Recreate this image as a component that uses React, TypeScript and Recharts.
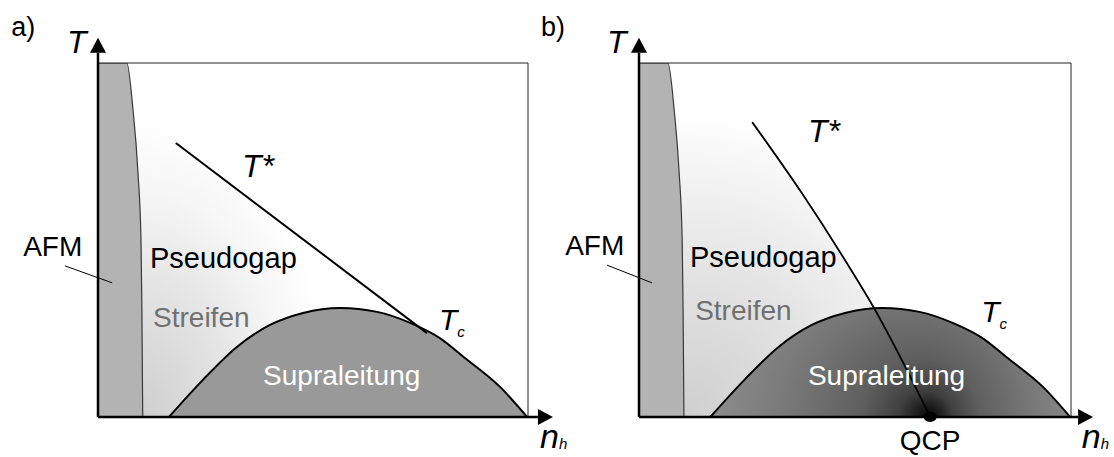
import React from "react";
import {
  ComposedChart,
  Area,
  Line,
  XAxis,
  YAxis,
  ReferenceArea,
  ReferenceLine,
  ReferenceDot,
} from "recharts";

// doping n_h runs 0..1 across the frame, temperature T 0..1 up the frame
const domeN = [0.165, 0.244, 0.323, 0.4, 0.477, 0.563, 0.649, 0.726, 0.795, 0.851, 0.935, 0.998];
const domeT = [0, 0.105, 0.198, 0.26, 0.294, 0.308, 0.297, 0.266, 0.223, 0.169, 0.085, 0];

const afmN = [0, 0.067, 0.081, 0.093, 0.1, 0.102, 0.104];
const afmT = [1, 1, 0.873, 0.689, 0.5, 0.311, 0];

// a) T* as a straight crossover that runs onto the dome
const tStarAN = [0.181, 0.765];
const tStarAT = [0.774, 0.237];

// b) T* bending down into the quantum critical point
const tStarBN = [0.262, 0.375, 0.481, 0.544, 0.62, 0.674];
const tStarBT = [0.833, 0.636, 0.435, 0.308, 0.133, 0];

const qcpN = 0.674;

const FONT = "'Liberation Sans', Arial, sans-serif";

type Pt = { n: number; T: number };
const zip = (n: number[], t: number[]): Pt[] => n.map((x, i) => ({ n: x, T: t[i] }));

const dome = zip(domeN, domeT);
const afm = zip(afmN, afmT);
const tStarA = zip(tStarAN, tStarAT);
const tStarB = zip(tStarBN, tStarBT);

// shaded pseudogap region: everything left of / below T*
const pseudoA: Pt[] = [
  { n: 0, T: 1 },
  { n: tStarAN[0], T: 1 },
  ...tStarA,
  { n: domeN[domeN.length - 1], T: 0 },
];
const pseudoB: Pt[] = [{ n: 0, T: 1 }, { n: tStarBN[0], T: 1 }, ...tStarB];

const arrowShape = (p: any) => {
  const { x1, y1, x2, y2 } = p;
  const ang = Math.atan2(y2 - y1, x2 - x1);
  const len = 15;
  const half = 8;
  const bx = x2 - len * Math.cos(ang);
  const by = y2 - len * Math.sin(ang);
  const ox = -Math.sin(ang) * half;
  const oy = Math.cos(ang) * half;
  return (
    <g>
      <line x1={x1} y1={y1} x2={bx} y2={by} stroke="#000" strokeWidth={2.5} />
      <polygon points={`${x2},${y2} ${bx + ox},${by + oy} ${bx - ox},${by - oy}`} fill="#000" />
    </g>
  );
};

type NoteOpts = {
  size?: number;
  color?: string;
  italic?: boolean;
  anchor?: "start" | "middle" | "end";
  sub?: string;
  subSize?: number;
  subDy?: number;
};

const note = (key: string, n: number, T: number, text: string, o: NoteOpts = {}) => (
  <ReferenceDot
    key={key}
    x={n}
    y={T}
    r={0}
    ifOverflow="visible"
    shape={(p: any) => (
      <text
        x={p.cx}
        y={p.cy}
        fontFamily={FONT}
        fontSize={o.size ?? 28}
        fontStyle={o.italic ? "italic" : "normal"}
        fill={o.color ?? "#000"}
        textAnchor={o.anchor ?? "start"}
      >
        {text}
        {o.sub && (
          <tspan fontSize={o.subSize ?? 15} dy={o.subDy ?? 8}>
            {o.sub}
          </tspan>
        )}
      </text>
    )}
  />
);

const axes = (xEnd: number) => [
  <ReferenceArea key="box" x1={0} x2={1} y1={0} y2={1} fill="none" stroke="#222" strokeWidth={1} ifOverflow="visible" />,
  <ReferenceLine key="xax" segment={[{ x: 0, y: 0 }, { x: xEnd, y: 0 }]} ifOverflow="visible" shape={arrowShape} />,
  <ReferenceLine key="yax" segment={[{ x: 0, y: 0 }, { x: 0, y: 1.071 }]} ifOverflow="visible" shape={arrowShape} />,
];

function PanelA() {
  return (
    <ComposedChart
      width={600}
      height={457}
      margin={{ top: 63, right: 72, bottom: 40, left: 98 }}
      style={{ position: "absolute", left: 0, top: 0 }}
    >
      <defs>
        <radialGradient
          id="pgA"
          gradientUnits="userSpaceOnUse"
          cx={0}
          cy={0}
          r={1}
          gradientTransform="translate(143 417) scale(190 300)"
        >
          <stop offset="0" stopColor="#cfcfcf" />
          <stop offset="0.4" stopColor="#e2e2e2" />
          <stop offset="0.75" stopColor="#f6f6f6" />
          <stop offset="1" stopColor="#ffffff" />
        </radialGradient>
      </defs>
      <XAxis type="number" dataKey="n" domain={[0, 1]} allowDataOverflow hide />
      <YAxis type="number" dataKey="T" domain={[0, 1]} allowDataOverflow hide />
      <Area data={pseudoA} dataKey="T" type="linear" fill="url(#pgA)" fillOpacity={1} stroke="none" isAnimationActive={false} />
      <Area data={afm} dataKey="T" type="monotoneX" fill="#b3b3b3" fillOpacity={1} stroke="#3a3a3a" strokeWidth={1.2} isAnimationActive={false} />
      <Area data={dome} dataKey="T" type="monotone" fill="#999999" fillOpacity={1} stroke="#000" strokeWidth={2} isAnimationActive={false} />
      <Line data={tStarA} dataKey="T" type="linear" stroke="#000" strokeWidth={2} dot={false} activeDot={false} isAnimationActive={false} />
      <ReferenceLine segment={[{ x: -0.077, y: 0.427 }, { x: 0.033, y: 0.379 }]} stroke="#000" strokeWidth={1} ifOverflow="visible" />
      {axes(1.058)}
      {note("lbl", -0.202, 1.076, "a)", { size: 27 })}
      {note("tAx", -0.072, 1.028, "T", { size: 32, italic: true })}
      {note("afm", -0.174, 0.455, "AFM")}
      {note("pg", 0.121, 0.421, "Pseudogap", { size: 29 })}
      {note("st", 0.128, 0.254, "Streifen", { color: "#707070" })}
      {note("sc", 0.384, 0.09, "Supraleitung", { color: "#fff" })}
      {note("ts", 0.335, 0.678, "T*", { size: 32, italic: true })}
      {note("tc", 0.793, 0.246, "T", { size: 30, italic: true, sub: "c", subSize: 15, subDy: 7 })}
      {note("nh", 1.028, -0.088, "n", { size: 34, italic: true, sub: "h", subSize: 15, subDy: 1 })}
    </ComposedChart>
  );
}

function PanelB() {
  return (
    <ComposedChart
      width={594}
      height={457}
      margin={{ top: 63, right: 43, bottom: 40, left: 119 }}
      style={{ position: "absolute", left: 520, top: 0 }}
    >
      <defs>
        <radialGradient
          id="pgB"
          gradientUnits="userSpaceOnUse"
          cx={0}
          cy={0}
          r={1}
          gradientTransform="translate(164 417) scale(300 305)"
        >
          <stop offset="0" stopColor="#cfcfcf" />
          <stop offset="0.4" stopColor="#e0e0e0" />
          <stop offset="0.75" stopColor="#f1f1f1" />
          <stop offset="1" stopColor="#ffffff" />
        </radialGradient>
        <radialGradient
          id="scB"
          gradientUnits="userSpaceOnUse"
          cx={365}
          cy={417}
          r={270}
          fx={410}
          fy={417}
        >
          <stop offset="0" stopColor="#000" />
          <stop offset="0.03" stopColor="#151515" />
          <stop offset="0.1" stopColor="#404040" />
          <stop offset="0.22" stopColor="#5f5f5f" />
          <stop offset="0.45" stopColor="#787878" />
          <stop offset="0.7" stopColor="#8d8d8d" />
          <stop offset="1" stopColor="#a2a2a2" />
        </radialGradient>
      </defs>
      <XAxis type="number" dataKey="n" domain={[0, 1]} allowDataOverflow hide />
      <YAxis type="number" dataKey="T" domain={[0, 1]} allowDataOverflow hide />
      <Area data={pseudoB} dataKey="T" type="linear" fill="url(#pgB)" fillOpacity={1} stroke="none" isAnimationActive={false} />
      <Area data={afm} dataKey="T" type="monotoneX" fill="#b3b3b3" fillOpacity={1} stroke="#3a3a3a" strokeWidth={1.2} isAnimationActive={false} />
      <Area data={dome} dataKey="T" type="monotone" fill="url(#scB)" fillOpacity={1} stroke="#000" strokeWidth={2} isAnimationActive={false} />
      <Line data={tStarB} dataKey="T" type="monotone" stroke="#000" strokeWidth={1.8} dot={false} activeDot={false} isAnimationActive={false} />
      <ReferenceLine segment={[{ x: -0.074, y: 0.429 }, { x: 0.03, y: 0.379 }]} stroke="#000" strokeWidth={1} ifOverflow="visible" />
      {axes(1.051)}
      <ReferenceDot
        x={qcpN}
        y={0}
        r={0}
        ifOverflow="visible"
        shape={(p: any) => <ellipse cx={p.cx} cy={p.cy} rx={6.5} ry={5} fill="#000" />}
      />
      {note("lbl", -0.227, 1.076, "b)", { size: 27 })}
      {note("tAx", -0.074, 1.028, "T", { size: 32, italic: true })}
      {note("afm", -0.171, 0.458, "AFM")}
      {note("pg", 0.118, 0.424, "Pseudogap", { size: 29 })}
      {note("st", 0.13, 0.274, "Streifen", { color: "#707070" })}
      {note("sc", 0.391, 0.09, "Supraleitung", { color: "#fff" })}
      {note("ts", 0.391, 0.777, "T*", { size: 32, italic: true })}
      {note("tc", 0.792, 0.268, "T", { size: 30, italic: true, sub: "c", subSize: 15, subDy: 7 })}
      {note("qcp", qcpN, -0.093, "QCP", { anchor: "middle" })}
      {note("nh", 1.025, -0.088, "n", { size: 34, italic: true, sub: "h", subSize: 15, subDy: 1 })}
    </ComposedChart>
  );
}

export default function App() {
  return (
    <div style={{ position: "absolute", left: 0, top: 0, width: 1114, height: 457, background: "#fff" }}>
      <PanelA />
      <PanelB />
    </div>
  );
}
